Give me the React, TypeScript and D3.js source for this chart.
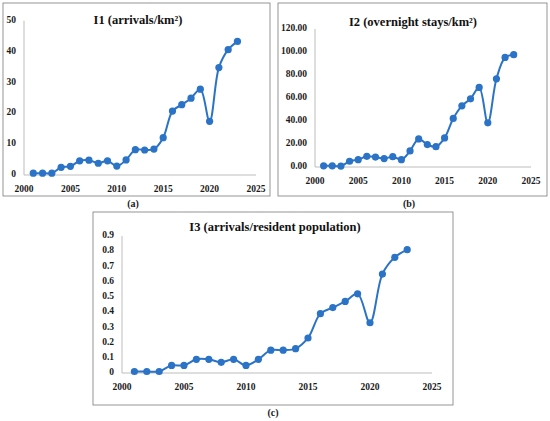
import React from 'react';
import * as d3 from 'd3';

// years shared by all three indicators
const years = d3.range(2001, 2024);

const i1Values = [0.6, 0.6, 0.6, 2.5, 2.8, 4.6, 4.8, 3.8, 4.6, 2.9, 4.9, 8.2, 8.1, 8.4, 12.1, 20.7, 22.8, 24.9, 27.8, 17.4, 34.8, 40.6, 43.3];
const i2Values = [1.0, 1.0, 0.8, 5.0, 6.4, 9.3, 8.6, 7.3, 9.0, 6.4, 14.0, 24.4, 19.5, 17.7, 25.3, 42.2, 53.2, 59.3, 69.2, 38.4, 76.7, 95.3, 97.7];
const i3Values = [0.01, 0.01, 0.01, 0.05, 0.05, 0.09, 0.09, 0.07, 0.09, 0.05, 0.09, 0.15, 0.15, 0.16, 0.23, 0.39, 0.43, 0.47, 0.52, 0.33, 0.65, 0.76, 0.81];

const xTicks = [2000, 2005, 2010, 2015, 2020, 2025];
const i1Ticks = [0, 10, 20, 30, 40, 50];
const i2Ticks = [0, 20, 40, 60, 80, 100, 120];
const i3Ticks = [0, 0.1, 0.2, 0.3, 0.4, 0.5, 0.6, 0.7, 0.8, 0.9];

const BLUE = '#2b73c6';
const FONT = '"Liberation Serif", "DejaVu Serif", serif';

interface PanelProps {
  box: [number, number, number, number];
  x0: number;
  x1: number;
  y0: number;
  y1: number;
  title: string;
  titleX: number;
  titleY: number;
  values: number[];
  yTicks: number[];
  fmt: (v: number) => string;
  label: string;
  labelX: number;
  labelY: number;
}

const Panel: React.FC<PanelProps> = (p) => {
  const x = d3.scaleLinear().domain([2000, 2025]).range([p.x0, p.x1]);
  const y = d3
    .scaleLinear()
    .domain([0, p.yTicks[p.yTicks.length - 1]])
    .range([p.y0, p.y1]);

  const line = d3
    .line<number>()
    .x((_, i) => x(years[i]))
    .y((d) => y(d))
    .curve(d3.curveCatmullRom.alpha(0.5));

  const [bx, by, bw, bh] = p.box;

  return (
    <g fontFamily={FONT} fontWeight="bold">
      <rect x={bx} y={by} width={bw} height={bh} fill="#fff" stroke="#7a7a7a" strokeWidth={0.8} />
      <text x={p.titleX} y={p.titleY} textAnchor="middle" fontSize={12.5} fill="#111" dominantBaseline="middle">
        {p.title}
      </text>
      {/* axes */}
      <line x1={p.x0} x2={p.x0} y1={p.y0} y2={p.y1} stroke="#bdbdbd" strokeWidth={1} />
      <line x1={p.x0} x2={p.x1} y1={p.y0} y2={p.y0} stroke="#bdbdbd" strokeWidth={1} />
      {p.yTicks.map((t) => (
        <text key={t} x={p.x0 - 8} y={y(t)} textAnchor="end" dominantBaseline="middle" fontSize={9.5} fill="#1a1a1a">
          {p.fmt(t)}
        </text>
      ))}
      {xTicks.map((t) => (
        <text key={t} x={x(t)} y={p.y0 + 15} textAnchor="middle" dominantBaseline="middle" fontSize={9.5} fill="#1a1a1a">
          {t}
        </text>
      ))}
      <path d={line(p.values) ?? ''} fill="none" stroke={BLUE} strokeWidth={2} />
      {p.values.map((v, i) => (
        <circle key={i} cx={x(years[i])} cy={y(v)} r={3.6} fill={BLUE} />
      ))}
      <text x={p.labelX} y={p.labelY} textAnchor="middle" dominantBaseline="middle" fontSize={10} fill="#1a1a1a">
        {p.label}
      </text>
    </g>
  );
};

export default function App() {
  return (
    <svg
      width={550}
      height={421}
      style={{ position: 'absolute', left: 0, top: 0, background: '#fff' }}
    >
      <rect width={550} height={421} fill="#fff" />
      <Panel
        box={[3, 3, 267, 193]}
        x0={24}
        x1={256}
        y0={175}
        y1={20.7}
        title="I1 (arrivals/km²)"
        titleX={138}
        titleY={21}
        values={i1Values}
        yTicks={i1Ticks}
        fmt={(v) => String(v)}
        label="(a)"
        labelX={133}
        labelY={205}
      />
      <Panel
        box={[278, 3, 269, 193]}
        x0={315}
        x1={531}
        y0={167}
        y1={29}
        title="I2 (overnight stays/km²)"
        titleX={413}
        titleY={23}
        values={i2Values}
        yTicks={i2Ticks}
        fmt={(v) => v.toFixed(2)}
        label="(b)"
        labelX={409}
        labelY={205}
      />
      <Panel
        box={[93, 212, 360, 193]}
        x0={122}
        x1={432}
        y0={373}
        y1={236}
        title="I3 (arrivals/resident population)"
        titleX={275}
        titleY={228}
        values={i3Values}
        yTicks={i3Ticks}
        fmt={(v) => String(+v.toFixed(1))}
        label="(c)"
        labelX={273}
        labelY={414}
      />
    </svg>
  );
}
